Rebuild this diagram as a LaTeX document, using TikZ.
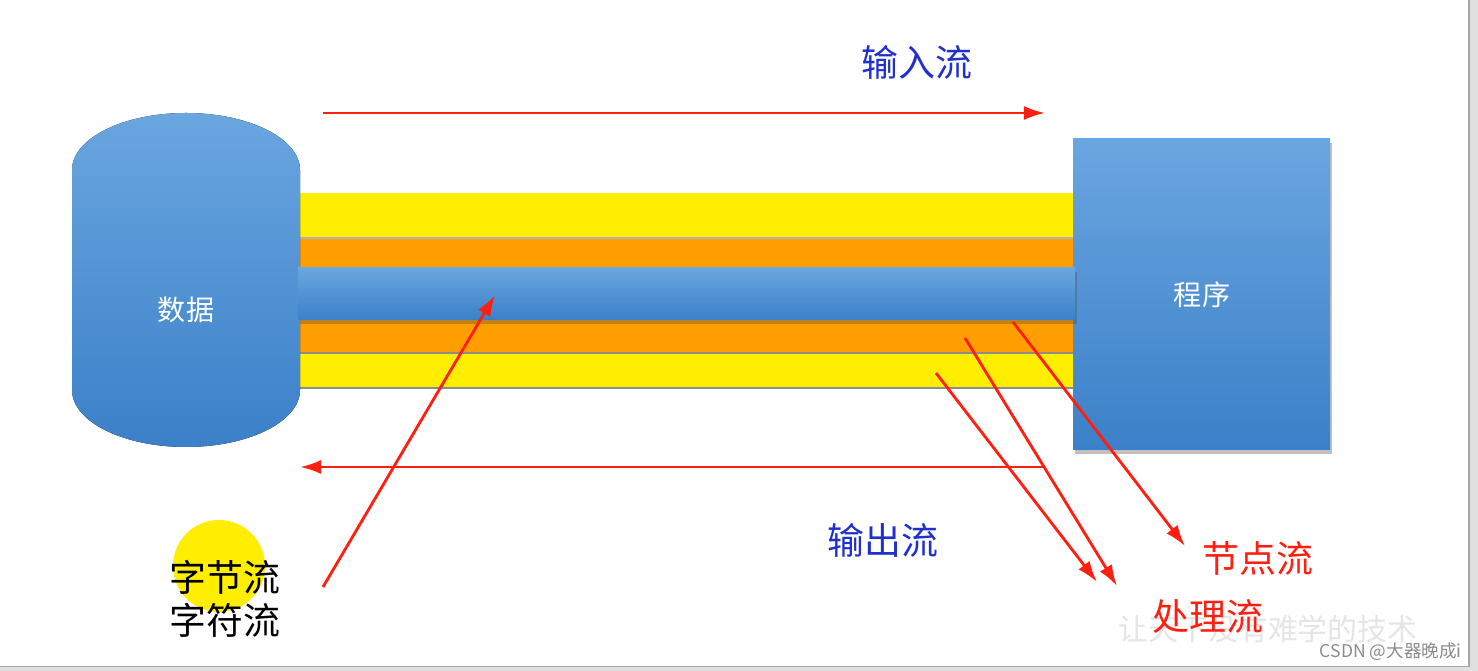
\documentclass[tikz,border=0pt]{standalone}
\usepackage{fontspec}
\newfontfamily\cjk{Noto Sans CJK SC}
\usetikzlibrary{calc,positioning,arrows.meta,shadows}

\definecolor{bluetop}{HTML}{6AA6E0}
\definecolor{bluebot}{HTML}{3B80C8}
\definecolor{bandyellow}{HTML}{FFEE00}
\definecolor{bandorange}{HTML}{FF9E00}
\definecolor{flowred}{HTML}{FF1E10}
\definecolor{flowblue}{HTML}{2030D0}
\definecolor{markgray}{HTML}{D4D4D4}

\tikzset{
  redarrow/.style={draw=flowred,line width=1.6pt,-{Latex[length=12pt,width=8pt]}},
  bluelabel/.style={text=flowblue,font=\cjk\fontsize{21}{25}\selectfont,inner sep=0pt},
  redlabel/.style={text=flowred,font=\cjk\fontsize{21}{25}\selectfont,inner sep=0pt},
  blacklabel/.style={text=black,font=\cjk\fontsize{21}{25}\selectfont,inner sep=0pt},
  whitelabel/.style={text=white,font=\cjk\fontsize{16}{19}\selectfont,inner sep=0pt},
  blueshade/.style={top color=bluetop,bottom color=bluebot},
  softshadow/.style={drop shadow={shadow xshift=1pt,shadow yshift=-2.5pt,opacity=0.35,fill=black!70}}
}

\begin{document}
\begin{tikzpicture}[x=0.02cm,y=0.02cm]
\useasboundingbox (0,0) rectangle (1478,671);
\fill[white] (0,0) rectangle (1478,671);
% frame of the screenshot
\fill[black!12] (1469,0) rectangle (1478,671);
\fill[black!12] (0,0) rectangle (1478,4);
\draw[black!35,line width=0.8pt] (0,4.5) -- (1469,4.5) -- (1469,671);

% watermarks
\node[text=markgray,font=\cjk\fontsize{17}{20}\selectfont,inner sep=0pt,opacity=0.6] (mark) at (1268,42) {\itshape 让天下没有难学的技术};
\node[text=black!45,font=\cjk\fontsize{10}{12}\selectfont,inner sep=0pt,anchor=east] (csdn) at (1462,19) {CSDN @大器晚成i};

% pipe between data and program
\fill[bandyellow] (300,433) rectangle (1073,478);
\fill[bandorange] (300,403) rectangle (1073,433);
\fill[bandorange] (300,318) rectangle (1073,351);
\fill[bandyellow] (300,283) rectangle (1073,318);
\draw[black!45,line width=0.6pt] (300,318) -- (1073,318);
\draw[black!45,line width=0.6pt] (300,283) -- (1073,283);
\draw[black!30,line width=0.6pt] (300,433) -- (1073,433);

% data cylinder
\fill[blueshade] (72,501) arc[start angle=180,end angle=0,x radius=114,y radius=57]
  -- (300,281) arc[start angle=0,end angle=-180,x radius=114,y radius=57] -- cycle;
\node[whitelabel] (data) at (186,361) {数据};

% program box
\fill[blueshade,softshadow] (1073,221) rectangle (1330,532);
\node[whitelabel] (prog) at (1202,376) {程序};

% blue middle bar
\fill[blueshade,softshadow] (298,351) rectangle (1075,403);

% input / output streams
\coordinate (inS) at (323,558);
\coordinate (inE) at (1045,558);
\draw[redarrow] (inS) -- (inE);
\node[bluelabel] (input) at (917,609) {输入流};

\coordinate (outS) at (1045,204);
\coordinate (outE) at (300,204);
\draw[redarrow] (outS) -- (outE);
\node[bluelabel] (output) at (883,131) {输出流};

% byte / char streams
\fill[bandyellow] (219,105) circle (46);
\node[blacklabel] (bytes) at (225,94) {字节流};
\node[blacklabel,below=5pt of bytes.south,anchor=north] (chars) {字符流};
\coordinate (charS) at (323,84);
\coordinate (charE) at (495,376);
\draw[redarrow] (charS) -- (charE);

% node stream / processing stream
\node[redlabel] (nodeflow) at (1258,113) {节点流};
\coordinate (nodeS) at (1013,349);
\coordinate (nodeE) at (1185,125);
\draw[redarrow] (nodeS) -- (nodeE);

\node[redlabel] (procflow) at (1208,54) {处理流};
\coordinate (procSa) at (965,333);
\coordinate (procEa) at (1117,85);
\coordinate (procSb) at (936,298);
\coordinate (procEb) at (1097,89);
\draw[redarrow] (procSa) -- (procEa);
\draw[redarrow] (procSb) -- (procEb);
\end{tikzpicture}
\end{document}
